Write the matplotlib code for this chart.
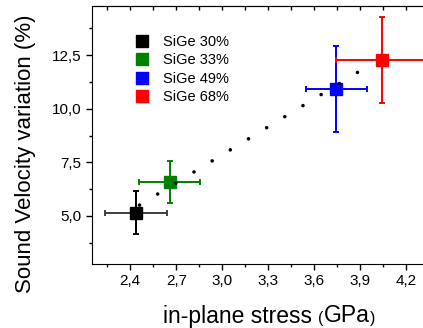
import numpy as np
import matplotlib.pyplot as plt
from matplotlib.lines import Line2D
from matplotlib.ticker import MultipleLocator, FuncFormatter
from matplotlib.offsetbox import TextArea, HPacker, AnchoredOffsetbox

plt.rcParams['font.family'] = ['Liberation Sans', 'DejaVu Sans']
plt.rcParams['lines.scale_dashes'] = False

labels = ['SiGe 30%', 'SiGe 33%', 'SiGe 49%', 'SiGe 68%']
colors = ['#000000', '#008000', '#0000ff', '#ff0000']
stress = [2.437, 2.656, 3.745, 4.045]
stress_err = [0.2, 0.2, 0.2, 0.3]
velocity = [5.14, 6.58, 10.93, 12.27]
velocity_err = [1.0, 1.0, 2.0, 2.0]

# dotted guide line
fit_x = [2.46, 4.0]
fit_y = [5.50, 12.21]

fig = plt.figure(figsize=(4.23, 3.28), dpi=100)
ax = fig.add_axes([92 / 423, 64 / 328, 331 / 423, 258 / 328])

for x, xe, y, ye, c, lab in zip(stress, stress_err, velocity, velocity_err, colors, labels):
    hc = '#404040' if c == '#000000' else c
    ax.errorbar(x, y, xerr=xe, fmt='none', ecolor=hc, elinewidth=1.4,
                capsize=2.5, capthick=1.4, zorder=2)
    ax.errorbar(x, y, yerr=ye, fmt='none', ecolor=c, elinewidth=1.4,
                capsize=2.5, capthick=1.4, zorder=2)
    ax.plot(x, y, 's', color=c, markersize=8, zorder=3, label=lab)

ax.plot(fit_x, fit_y, color='black', lw=2.6, linestyle=(0, (0.01, 15.3)),
        dash_capstyle='round', zorder=4)

ax.set_xlim(2.15, 4.31)
ax.set_ylim(2.75, 14.8)
ax.xaxis.set_major_locator(MultipleLocator(0.3))
ax.xaxis.set_minor_locator(MultipleLocator(0.15))
ax.yaxis.set_major_locator(MultipleLocator(2.5))
ax.yaxis.set_minor_locator(MultipleLocator(1.25))
ax.xaxis.set_major_formatter(FuncFormatter(lambda v, p: f'{v:.1f}'.replace('.', ',')))
ax.yaxis.set_major_formatter(FuncFormatter(lambda v, p: f'{v:.1f}'.replace('.', ',')))
ax.tick_params(axis='both', which='major', labelsize=11, direction='out', length=4, width=1)
ax.tick_params(axis='both', which='minor', direction='out', length=2.5, width=1)
ax.spines['right'].set_visible(False)

# inward ticks along the top
top = ax.secondary_xaxis('top')
top.xaxis.set_major_locator(MultipleLocator(0.3))
top.xaxis.set_minor_locator(MultipleLocator(0.15))
top.tick_params(which='both', direction='in', length=3, width=1, labeltop=False)

ax.set_ylabel('Sound Velocity variation (%)', fontsize=16)
ax.yaxis.set_label_coords((36 - 92) / 331, (328 - 153.5 - 64) / 258)

parts = [('in-plane stress ', 16.5), ('(', 11.5), ('GPa', 16.5), (')', 11.5)]
box = HPacker(children=[TextArea(t, textprops=dict(size=s)) for t, s in parts],
              align='baseline', pad=0, sep=0)
anch = AnchoredOffsetbox(loc='center', child=box, pad=0, frameon=False,
                         bbox_to_anchor=(269 / 423, 1 - 316 / 328),
                         bbox_transform=fig.transFigure)
fig.add_artist(anch)

handles = [Line2D([], [], marker='s', color=c, linestyle='none', markersize=8) for c in colors]
ax.legend(handles, labels, loc='upper left', bbox_to_anchor=(0.11, 0.91), frameon=False,
          fontsize=10.5, handlelength=1.0, handletextpad=1.0, labelspacing=0.3,
          borderaxespad=0)

fig.savefig('out.png', dpi=100)
